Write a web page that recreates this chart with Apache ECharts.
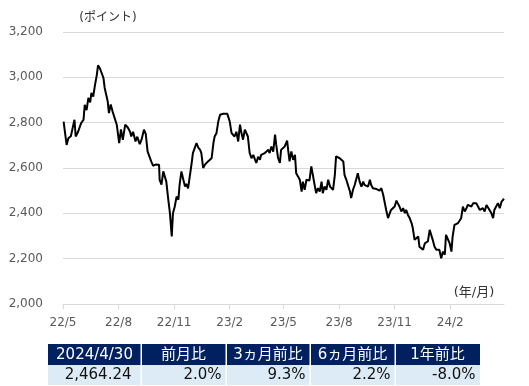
<!DOCTYPE html>
<html>
<head>
<meta charset="utf-8">
<script src="https://cdn.jsdelivr.net/npm/echarts@6/dist/echarts.min.js"></script>
<style>
html,body{margin:0;padding:0;background:#fff;}
#chart{width:529px;height:386px;}
</style>
</head>
<body>
<div id="chart"></div>
<script>
// ---- data ----
const startDate = '2022-05-01';
const dayOffsets = [
1,6,9,13,19,21,25,30,34,36,39,42,45,47,50,53,56,58,61,64,67,69,74,76,79,82,85,89,91,93,96,99,103,107,111,113,116,120,123,127,130,134,137,140,143,146,149,153,159,160,163,166,169,171,174,
177,180,182,185,188,191,193,196,199,202,204,207,210,213,215,218,221,224,227,229,232,235,237,240,243,246,249,251,254,257,260,265,272,276,279,282,284,287,290,293,295,298,301,304,306,309,312,315,318,320,323,326,328,331,334,337,340,342,345,348,351,353,356,359,
361,364,367,371,373,375,378,381,384,386,389,392,395,397,400,403,406,408,411,414,417,419,422,425,428,430,433,436,439,442,444,447,450,452,455,458,461,464,466,469,472,475,477,480,483,486,488,491,494,497,499,502,505,508,510,513,516,519,521,524,527,530,532,535,538,
541,543,546,549,552,554,557,560,563,566,568,571,574,577,579,582,585,588,590,593,596,599,601,604,607,610,612,615,618,621,623,626,629,632,634,637,640,643,645,648,651,654,657,659,662,665,668,670,673,676,679,681,684,687,690,692,695,698,701,703,706,709,712,714,717,720,723,726,730
];
const indexValues = [
2805,2702,2732,2740,2813,2739,2760,2798,2813,2879,2855,2909,2890,2931,2915,2967,3011,3053,3040,3048,2997,2953,2894,2842,2880,2850,2855,2791,2785,2710,2770,2724,2791,2780,2760,2739,2760,2717,2738,2705,2725,2769,2750,2673,2665,2629,2610,2615,2614,2548,2527,2585,2585,2540,2467,
2401,2298,2400,2430,2474,2460,2526,2585,2550,2518,2530,2510,2504,2622,2666,2688,2710,2690,2680,2666,2600,2615,2607,2629,2636,2643,2710,2739,2753,2805,2835,2839,2839,2805,2754,2760,2739,2760,2717,2791,2760,2725,2769,2775,2739,2666,2643,2658,2636,2622,2650,2636,2658,2652,2666,2672,2680,2666,2695,2672,2747,2702,2644,2622,
2680,2683,2695,2721,2673,2629,2673,2636,2658,2577,2563,2548,2496,2540,2504,2548,2540,2545,2607,2563,2518,2489,2511,2496,2540,2489,2518,2504,2548,2518,2511,2504,2570,2651,2651,2643,2636,2629,2570,2548,2540,2496,2467,2504,2526,2526,2577,2540,2518,2540,2526,2533,2518,2548,2526,2511,2504,2507,2504,2500,2511,2482,2474,2415,2379,
2378,2415,2412,2430,2456,2445,2430,2408,2423,2401,2415,2393,2378,2357,2335,2283,2276,2298,2253,2261,2239,2268,2276,2276,2327,2320,2283,2253,2239,2246,2239,2202,2231,2217,2305,2312,2268,2231,2298,2349,2357,2357,2364,2378,2430,2408,2423,2437,2445,2430,2445,2437,2445,2430,2415,2408,2423,2408,2437,2430,2415,2401,2379,2415,2430,2445,2423,2452,2464.24
];
const endDate = '2024-04-30';
const tickLabels = ['22/5','22/8','22/11','23/2','23/5','23/8','23/11','24/2'];
const yTicks = [2000, 2200, 2400, 2600, 2800, 3000, 3200];
const tableHeaders = ['2024/4/30','前月比','3ヵ月前比','6ヵ月前比','1年前比'];
const tableValues = ['2,464.24','2.0%','9.3%','2.2%','-8.0%'];
const yUnit = '(ポイント)';
const xUnit = '(年/月)';

// ---- build ----
const DAY = 86400000;
function utcDay(y, m, d){ return Date.UTC(y, m, d); }
function parseDay(s){ const p = s.split('-').map(Number); return utcDay(p[0], p[1]-1, p[2]); }
const s0 = parseDay(startDate);
const seriesData = dayOffsets.map((d, i) => [d, indexValues[i]]);
const tickDays = tickLabels.map(l => { const p = l.split('/').map(Number); return Math.round((utcDay(2000 + p[0], p[1]-1, 1) - s0) / DAY); });
const labelMap = {}; tickDays.forEach((t, i) => labelMap[t] = tickLabels[i]);
const endDay = Math.round((parseDay(endDate) - s0) / DAY);

const FONT = "'DejaVu Sans', 'Noto Sans CJK JP', sans-serif";
const chart = echarts.init(document.getElementById('chart'), null, {renderer: 'canvas'});

// table layout
const colEdges = [48, 141, 226, 310, 395, 480];
const headY = 344, headH = 21, rowY = 365, rowH = 20;
const graphics = [];
for (let i = 0; i < 5; i++) {
  const x0 = colEdges[i] + (i === 0 ? 0 : 1);
  const w = colEdges[i+1] - x0 - (i === 4 ? 0 : 0.5);
  graphics.push({type:'rect', shape:{x:x0, y:headY, width:w, height:headH}, style:{fill:'#002060'}});
  graphics.push({type:'rect', shape:{x:x0, y:rowY, width:w, height:rowH}, style:{fill:'#DDEBF7'}});
  graphics.push({type:'text', x:(colEdges[i]+colEdges[i+1])/2, y:headY+headH/2+0.5,
    style:{text:tableHeaders[i], fill:'#fff', font:'15px ' + FONT, align:'center', verticalAlign:'middle'}});
  graphics.push({type:'text', x:colEdges[i+1] - (i === 0 ? 9.5 : 4.5), y:rowY+rowH/2,
    style:{text:tableValues[i], fill:'#111', font:'15px ' + FONT, align:'right', verticalAlign:'middle'}});
}
graphics.push({type:'text', x:108, y:18, style:{text:yUnit, fill:'#333', font:'12px ' + FONT, align:'center', verticalAlign:'middle'}});
graphics.push({type:'text', x:474, y:293, style:{text:xUnit, fill:'#333', font:'13px ' + FONT, align:'center', verticalAlign:'middle'}});

chart.setOption({
  animation: false,
  grid: {left: 63, right: 25, top: 32, bottom: 82, containLabel: false},
  xAxis: {
    type: 'value',
    min: 0,
    max: endDay,
    axisLine: {show: true, lineStyle: {color: '#d9d9d9', width: 1}},
    axisTick: {show: true, customValues: tickDays, length: 5, lineStyle: {color: '#d9d9d9'}},
    axisLabel: {customValues: tickDays, formatter: v => labelMap[v] || '', color: '#595959', fontSize: 12, fontFamily: FONT, margin: 13},
    splitLine: {show: false}
  },
  yAxis: {
    type: 'value',
    min: yTicks[0], max: yTicks[yTicks.length-1], interval: 200,
    axisLine: {show: false}, axisTick: {show: false},
    axisLabel: {formatter: v => v.toLocaleString('en-US'), color: '#595959', fontSize: 12, fontFamily: FONT, margin: 20},
    splitLine: {lineStyle: {color: '#d9d9d9', width: 1}}
  },
  series: [{
    type: 'line', data: seriesData, showSymbol: false, symbol: 'none',
    lineStyle: {color: '#000', width: 2}, z: 3
  }],
  graphic: graphics
});
</script>
</body>
</html>
